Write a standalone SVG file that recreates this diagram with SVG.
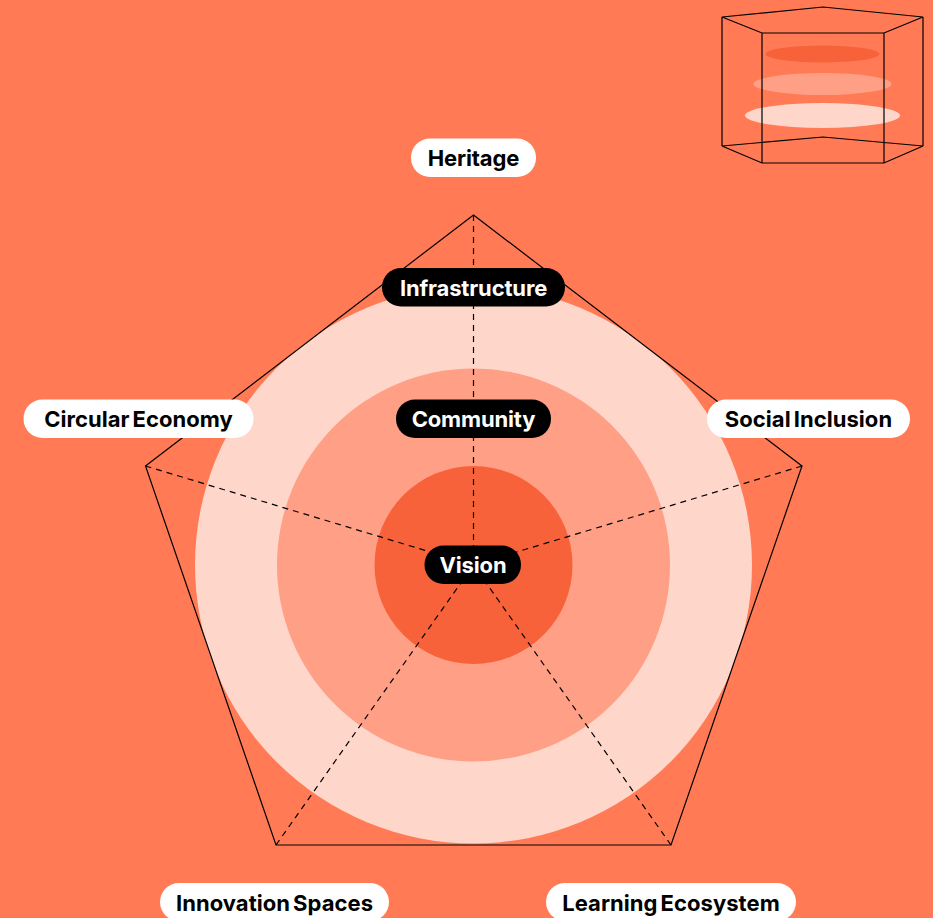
<svg xmlns="http://www.w3.org/2000/svg" width="933" height="918" viewBox="0 0 933 918">
<style>
.w{fill:#fff}
.b{fill:#000}
text{font-family:"Inter","Liberation Sans",sans-serif;font-weight:700;font-size:22px;text-anchor:middle;letter-spacing:-0.15px}
.wt{fill:#000}
.bt{fill:#fff}
.m{letter-spacing:0.05px;word-spacing:-2.2px}
.solid{fill:none;stroke:#000;stroke-width:1.2;stroke-linejoin:miter}
.dash{fill:none;stroke:#000;stroke-width:1.2;stroke-dasharray:6 5}
</style>
<rect width="933" height="918" fill="#FF7A55"/>
<g id="rings">
<circle cx="473.5" cy="565" r="278.5" fill="#FFD6CA"/>
<circle cx="473.5" cy="565" r="196.5" fill="#FF9F85"/>
<circle cx="473.5" cy="565" r="99" fill="#F7623A"/>
</g>
<g id="connectors">
<polygon class="solid" points="473.500,215 802,466 671,845 276,845 145.500,466"/>
<path class="dash" d="M473.5 215V565M145.5 466L473.5 565M802 466L473.5 565M276 845L473.5 565M671 845L473.5 565"/>
</g>
<g id="icon">
<ellipse cx="822.5" cy="54" rx="57" ry="8.5" fill="#F7623A"/>
<ellipse cx="822.5" cy="84" rx="69" ry="11" fill="#FF9F85"/>
<ellipse cx="822.5" cy="115.5" rx="77.5" ry="12.5" fill="#FFD6CA"/>
<path class="solid" d="M722 17L823 7L923 17L884 33H762ZM722 146L823 137L923 146L884 163H762ZM722 17V146M923 17V146M762 33V163M884 33V163"/>
</g>
<g id="node-heritage"><rect class="w" x="411" y="138.500" width="125" height="38.500" rx="19"/><text class="wt" x="473.5" y="165.500">Heritage</text></g>
<g id="node-infrastructure"><rect class="b" x="382" y="268" width="183" height="38.500" rx="19"/><text class="bt" x="473.5" y="296">Infrastructure</text></g>
<g id="node-community"><rect class="b" x="396" y="399.500" width="155" height="38.500" rx="19"/><text class="bt" x="473.5" y="427">Community</text></g>
<g id="node-vision"><rect class="b" x="424.500" y="545.500" width="96.500" height="38.500" rx="19"/><text class="bt" x="473" y="573">Vision</text></g>
<g id="node-circular-economy"><rect class="w" x="23.500" y="399.500" width="230" height="38.500" rx="19"/><text class="wt m" x="138.500" y="427">Circular Economy</text></g>
<g id="node-social-inclusion"><rect class="w" x="707" y="399.500" width="203" height="38.500" rx="19"/><text class="wt m" x="808.500" y="427">Social Inclusion</text></g>
<g id="node-innovation-spaces"><rect class="w" x="160" y="883" width="229" height="38" rx="19"/><text class="wt m" x="274.500" y="911">Innovation Spaces</text></g>
<g id="node-learning-ecosystem"><rect class="w" x="546" y="883" width="250" height="38" rx="19"/><text class="wt m" x="671" y="911">Learning Ecosystem</text></g>
</svg>
